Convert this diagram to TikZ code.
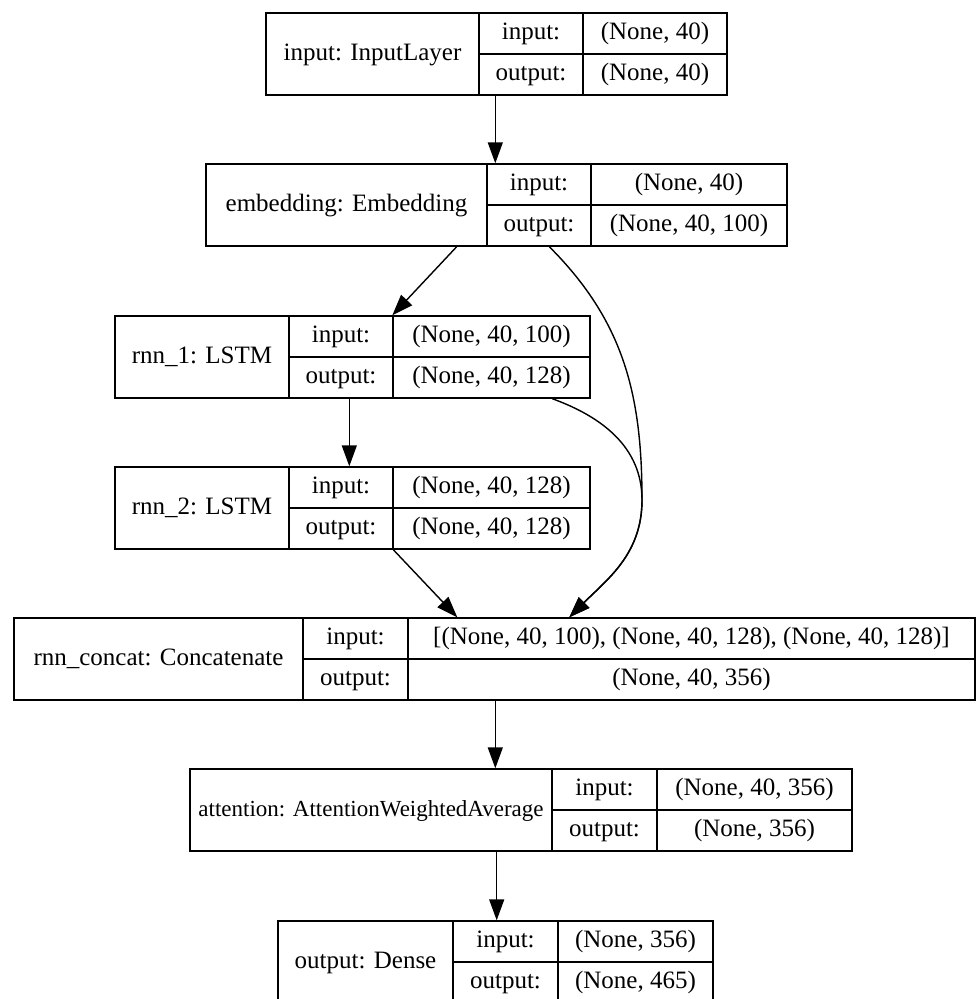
\documentclass[tikz,border=0pt]{standalone}
\usepackage{fontspec}
\setmainfont{Liberation Serif}
\usetikzlibrary{arrows.meta}

% one layer record: name, x0, x1, x2, x3, top, title, input shape, output shape
\newcommand{\layerbox}[9]{%
	\node[cell, minimum width={#3pt-#2pt}, minimum height=82pt] (#1) at ({(#2+#3)/2}, {#6+41}) {#7};
	\node[cell, minimum width={#4pt-#3pt}, minimum height=41pt] (#1-i) at ({(#3+#4)/2}, {#6+20.5}) {input:};
	\node[cell, minimum width={#4pt-#3pt}, minimum height=41pt] (#1-o) at ({(#3+#4)/2}, {#6+61.5}) {output:};
	\node[cell, minimum width={#5pt-#4pt}, minimum height=41pt] (#1-iv) at ({(#4+#5)/2}, {#6+20.5}) {#8};
	\node[cell, minimum width={#5pt-#4pt}, minimum height=41pt] (#1-ov) at ({(#4+#5)/2}, {#6+61.5}) {#9};
}

\begin{document}
\begin{tikzpicture}[x=1pt, y=-1pt]
		% Cell style
		\tikzset{cell/.style={draw, rectangle, inner sep=0pt,
								line width=1.4pt,
								font=\fontsize{25}{29}\selectfont,
								text height=17.5pt, text depth=5.5pt},
				arr/.style={line width=1.4pt,
								-{Triangle[length=21pt, width=15pt]}}}
		
		\fill[white] (0,0) rectangle (977,999);
		\useasboundingbox (0,0) rectangle (977,999);
		
		% Draw layers
		\layerbox{inl}{266}{479}{583}{727}{13}{input: InputLayer}{(None, 40)}{(None, 40)}
		\layerbox{emb}{206}{487}{591}{787}{164}{embedding: Embedding}{(None, 40)}{(None, 40, 100)}
		\layerbox{rnn1}{115}{289}{393}{590}{316}{rnn\_1: LSTM}{(None, 40, 100)}{(None, 40, 128)}
		\layerbox{rnn2}{115}{289}{393}{590}{467}{rnn\_2: LSTM}{(None, 40, 128)}{(None, 40, 128)}
		\layerbox{cat}{14}{303}{408}{975}{618}{rnn\_concat: Concatenate}{[(None, 40, 100), (None, 40, 128), (None, 40, 128)]}{(None, 40, 356)}
		\layerbox{att}{190}{552}{657}{852}{769}{\fontsize{23}{27}\selectfont attention: AttentionWeightedAverage}{(None, 40, 356)}{(None, 356)}
		\layerbox{dense}{278}{453}{558}{713}{921}{output: Dense}{(None, 356)}{(None, 465)}
		
		% Connector ends
		\coordinate (a1) at ([xshift=17pt]inl-o.south west);
		\coordinate (a2) at ([xshift=-31pt]emb.south east);
		\coordinate (a3) at ([xshift=63pt]emb-o.south west);
		\coordinate (a4) at ([xshift=61pt]rnn1-o.south west);
		\coordinate (a5) at ([xshift=160pt]rnn1-ov.south west);
		\coordinate (a6) at ([xshift=1pt]rnn2-ov.south west);
		\coordinate (a7) at ([xshift=88pt]cat-ov.south west);
		\coordinate (a8) at ([xshift=-56pt]att.south east);
		\coordinate (m) at (642, 500);
		
		% Draw connectors
		\draw[arr] (a1) -- (a1 |- emb-i.north);
		\draw[arr] (a2) -- (rnn1-iv.north west);
		\draw[arr] (a3) to[out=-45, in=90] (m)
			to[out=-90, in=45] ([xshift=162pt]cat-iv.north west);
		\draw[arr] (a5) to[out=-20, in=90] (m)
			to[out=-90, in=45] ([xshift=162pt]cat-iv.north west);
		\draw[arr] (a4) -- (a4 |- rnn2-i.north);
		\draw[arr] (a6) -- ([xshift=50pt]cat-iv.north west);
		\draw[arr] (a7) -- (a7 |- att.north);
		\draw[arr] (a8) -- (a8 |- dense-i.north);
		
	\end{tikzpicture}
\end{document}
